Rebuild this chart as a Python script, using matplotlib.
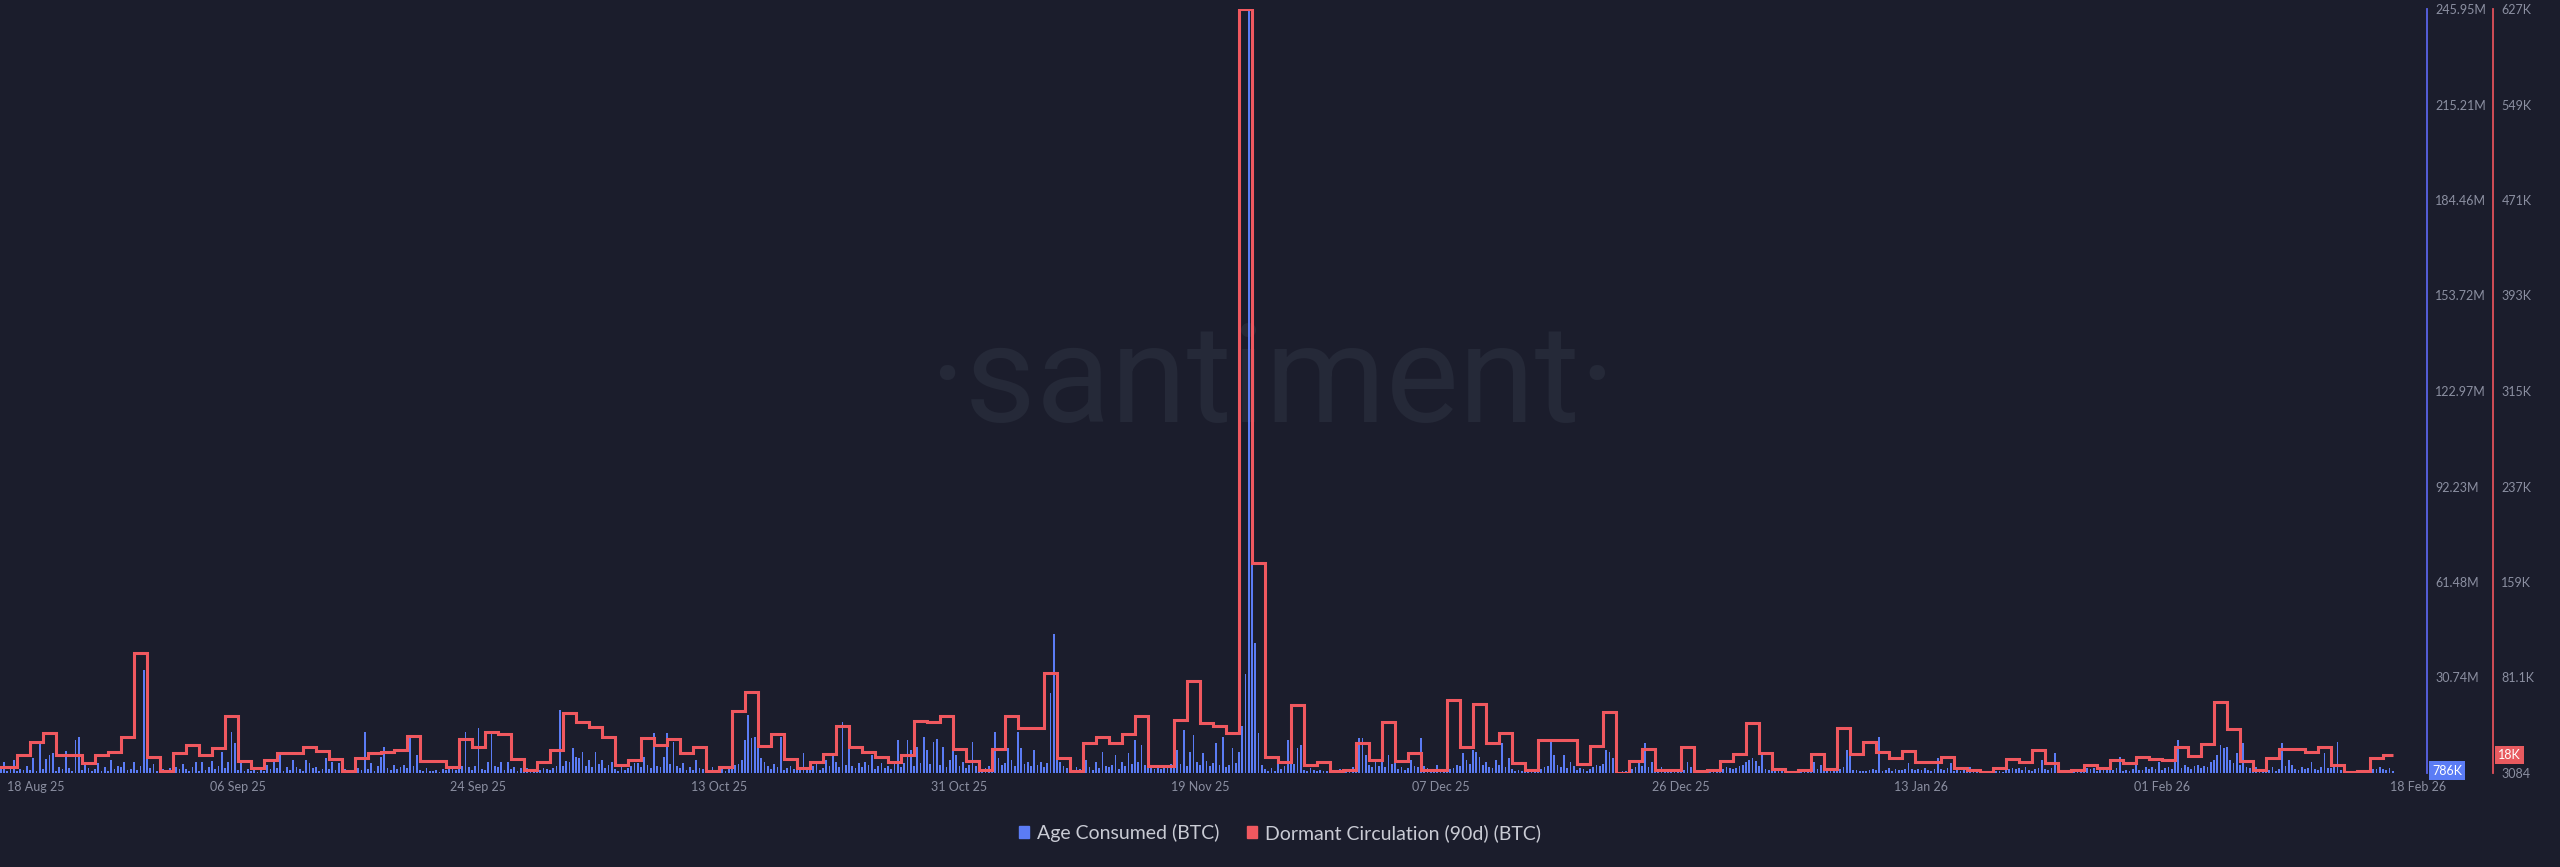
import pandas as pd
import matplotlib
matplotlib.use("Agg")
import matplotlib.pyplot as plt
from matplotlib.patches import Patch

plt.rcParams["font.family"] = ["Lato", "DejaVu Sans"]

BG = "#1b1d2c"
BLUE = "#5b7cf5"
RED = "#f0585f"
GREY = "#8b8fa1"

start = pd.Timestamp("2025-08-18")

# Dormant Circulation (90d), thousands of BTC, one value per day from 18 Aug 25
red_k = [
    8.0, 8.0, 17.8, 28.4, 35.8, 17.8, 17.6, 11.3, 17.8, 20.2, 32.5, 101.1, 16.2, 4.7, 19.4, 26.0,
    17.8, 23.5, 49.6, 12.9, 7.2, 13.7, 19.4, 19.6, 24.3, 21.1, 14.5, 4.7, 15.3, 19.4, 20.2, 21.9,
    33.3, 12.9, 12.9, 8.0, 30.9, 24.3, 36.6, 35.0, 14.5, 5.5, 12.1, 21.9, 52.1, 44.8, 40.7, 32.5,
    9.6, 13.7, 31.7, 26.0, 30.9, 19.4, 24.3, 4.7, 8.0, 53.7, 69.3, 25.1, 35.0, 14.5, 7.2, 12.1,
    18.6, 41.5, 24.3, 20.2, 16.2, 12.1, 17.8, 45.6, 44.8, 49.6, 22.7, 12.9, 5.5, 22.7, 49.6, 39.9,
    40.1, 84.8, 15.3, 4.7, 27.6, 32.5, 27.6, 35.0, 49.6, 8.8, 8.8, 46.4, 78.2, 43.9, 41.5, 35.8,
    627.0, 174.7, 16.2, 12.1, 58.6, 9.6, 12.1, 4.7, 5.5, 27.6, 13.7, 44.8, 12.9, 19.4, 5.5, 5.5,
    62.7, 24.3, 59.5, 27.6, 35.8, 11.3, 5.5, 30.0, 30.0, 30.0, 10.4, 25.1, 52.9, 3.084, 12.9, 22.7,
    5.5, 5.5, 24.3, 4.7, 5.5, 12.9, 18.6, 43.9, 19.4, 6.4, 3.9, 5.5, 18.6, 6.4, 39.9, 18.6,
    28.4, 20.2, 15.3, 21.1, 12.1, 12.1, 16.2, 7.2, 5.5, 3.9, 7.2, 14.5, 12.1, 21.9, 11.3, 4.7,
    5.5, 9.6, 7.2, 13.7, 11.3, 16.2, 14.5, 13.7, 24.3, 17.0, 26.8, 61.1, 39.0, 12.9, 5.5, 15.3,
    22.7, 22.7, 20.2, 24.3, 9.6, 3.9, 4.7, 15.3, 18.0,
]

# Age Consumed, millions of BTC, four values per day (6h) from 18 Aug 25
blue_m = [
    0.9, 1.6, 0.5, 2.1,  3.5, 0.8, 1.9, 4.2,  0.6, 1.4, 0.9, 2.3,  1.1, 4.8, 0.7, 9.7,
    1.3, 4.5, 5.8, 6.4,  0.8, 2.0, 1.2, 7.1,  1.5, 0.6, 10.6, 11.6,  0.9, 3.5, 1.7, 0.5,
    1.2, 3.2, 0.7, 1.8,  0.6, 4.2, 1.4, 2.2,  1.8, 3.5, 0.9, 1.3,  3.5, 1.1, 2.4, 33.2,
    6.0, 1.5, 2.9, 0.8,  0.7, 1.2, 0.5, 1.6,  0.9, 1.9, 1.3, 2.9,  1.4, 0.6, 1.8, 3.5,
    0.8, 3.5, 1.1, 2.0,  3.9, 1.3, 2.2, 6.8,  1.6, 3.5, 13.2, 9.7,  0.9, 4.2, 0.6, 1.4,
    0.5, 0.9, 0.4, 1.1,  0.7, 2.6, 1.2, 4.2,  1.5, 5.8, 0.8, 1.9,  1.1, 4.2, 2.0, 1.3,
    0.8, 4.2, 3.2, 1.7,  1.9, 0.7, 1.4, 4.8,  1.2, 3.5, 0.9, 3.2,  0.6, 1.3, 0.5, 0.9,
    0.8, 1.7, 1.1, 13.2,  1.4, 3.2, 0.7, 2.1,  5.2, 8.4, 1.6, 0.9,  2.6, 1.2, 1.9, 2.6,
    1.7, 11.6, 2.3, 5.8,  1.0, 0.6, 1.5, 0.8,  0.5, 0.9, 0.4, 1.2,  0.9, 1.4, 2.0, 1.1,
    1.6, 2.2, 13.2, 1.8,  1.1, 2.4, 14.5, 1.3,  0.9, 3.5, 12.9, 2.2,  1.8, 3.5, 1.0, 3.5,
    1.2, 2.0, 0.8, 1.6,  0.7, 1.5, 1.3, 0.9,  0.6, 1.1, 1.7, 1.4,  0.9, 1.6, 2.3, 20.3,
    2.1, 4.0, 3.6, 8.0,  5.2, 4.8, 6.8, 2.4,  4.2, 1.9, 6.8, 2.8,  4.2, 1.5, 2.6, 3.5,
    1.3, 0.8, 1.9, 1.1,  1.6, 2.2, 3.2, 3.2,  1.9, 5.2, 2.7, 1.5,  12.9, 2.3, 1.8, 5.2,
    12.9, 3.0, 10.0, 2.4,  1.7, 3.2, 1.1, 2.0,  0.9, 4.2, 1.6, 1.2,  1.3, 0.7, 1.9, 1.0,
    0.8, 1.4, 0.6, 1.7,  1.5, 2.6, 3.0, 4.1,  10.6, 18.7, 11.3, 11.6,  11.3, 4.8, 3.5, 2.2,
    1.4, 2.9, 1.8, 11.6,  1.1, 1.7, 2.3, 1.4,  1.8, 0.9, 6.4, 1.6,  1.2, 2.1, 3.2, 1.0,
    1.5, 4.2, 2.4, 6.4,  3.5, 2.0, 16.4, 2.7,  10.0, 2.3, 1.6, 3.2,  1.9, 3.5, 2.6, 5.8,
    1.4, 2.2, 3.2, 1.7,  2.1, 1.3, 2.8, 10.6,  1.8, 3.1, 10.6, 7.4,  2.4, 8.4, 3.3, 11.6,
    7.4, 2.9, 10.0, 10.9,  2.6, 8.4, 1.9, 4.2,  11.9, 5.8, 2.3, 3.5,  1.6, 2.7, 10.0, 2.1,
    1.2, 0.8, 1.5, 2.3,  1.9, 13.2, 4.8, 2.6,  3.1, 8.0, 4.2, 2.4,  13.2, 8.0, 2.9, 3.6,
    2.2, 7.4, 2.7, 3.5,  2.0, 3.2, 25.8, 44.8,  4.8, 3.5, 2.1, 1.6,  1.3, 0.9, 1.8, 1.2,
    1.5, 4.2, 2.0, 1.1,  3.5, 1.7, 6.8, 2.2,  1.9, 2.6, 5.8, 1.4,  3.5, 2.3, 6.4, 2.8,
    10.6, 3.4, 9.0, 2.5,  3.5, 1.8, 1.2, 2.1,  1.4, 2.2, 1.7, 2.9,  2.6, 7.4, 3.0, 13.8,
    2.4, 6.8, 12.2, 3.5,  2.7, 6.4, 3.9, 2.2,  3.1, 9.7, 2.5, 11.6,  2.0, 2.6, 8.0, 3.3,
    6.8, 15.0, 32.0, 245.95,  81.0, 42.0, 13.0, 2.6,  1.2, 0.8, 1.5, 0.6,  3.5, 1.4, 2.2, 10.6,
    5.8, 2.9, 8.0, 9.0,  1.1, 0.7, 1.6, 0.9,  0.6, 1.0, 0.5, 0.8,  0.4, 0.9, 0.7, 1.2,
    0.8, 1.3, 0.9, 1.9,  2.4, 11.3, 11.3, 5.8,  2.6, 1.9, 3.5, 2.2,  4.2, 1.8, 5.8, 2.9,
    3.5, 1.4, 2.0, 1.1,  1.6, 4.2, 2.3, 1.9,  11.3, 2.2, 1.5, 0.9,  0.7, 2.6, 1.0, 0.8,
    0.9, 1.4, 1.7, 2.5,  2.1, 6.4, 4.2, 3.0,  7.4, 6.8, 5.2, 2.7,  3.5, 2.0, 1.5, 4.2,
    2.6, 9.7, 1.8, 4.8,  1.4, 0.8, 1.1, 0.6,  0.5, 0.9, 0.7, 1.0,  0.8, 1.3, 1.9, 2.4,
    10.0, 5.8, 2.7, 1.9,  5.8, 1.6, 3.5, 2.2,  0.9, 1.5, 1.2, 0.7,  1.3, 1.8, 2.6, 2.3,
    3.0, 7.4, 6.8, 4.8,  0.6, 0.4, 0.8, 0.5,  0.7, 1.2, 1.8, 3.5,  2.3, 9.7, 1.9, 3.5,
    0.9, 1.4, 1.9, 0.6,  0.4, 0.7, 0.5, 0.8,  0.6, 1.1, 3.5, 1.9,  0.5, 0.3, 0.6, 0.4,
    0.7, 0.5, 0.9, 0.6,  0.8, 1.2, 1.9, 1.5,  1.3, 1.7, 2.2, 2.6,  3.5, 4.2, 4.8, 3.9,
    2.1, 5.8, 1.4, 0.9,  1.6, 0.7, 0.5, 0.8,  0.4, 0.6, 0.3, 0.5,  0.7, 0.5, 0.9, 1.1,
    1.2, 3.5, 1.4, 2.6,  0.6, 0.9, 0.7, 1.0,  0.8, 1.3, 2.0, 7.4,  5.8, 1.1, 0.9, 0.7,
    0.6, 0.8, 0.9, 1.2,  0.9, 11.6, 0.7, 1.0,  1.6, 0.8, 1.2, 0.9,  1.1, 1.4, 3.2, 1.2,
    0.9, 1.3, 1.0, 1.5,  1.1, 0.8, 1.4, 4.8,  1.2, 0.9, 1.6, 3.2,  0.7, 1.1, 0.8, 1.3,
    0.9, 1.9, 1.0, 0.7,  0.5, 0.8, 0.4, 0.6,  0.3, 0.5, 0.6, 0.4,  0.9, 1.4, 1.6, 1.3,
    1.6, 1.1, 1.9, 0.9,  0.8, 1.2, 1.5, 4.2,  1.3, 0.9, 1.7, 6.4,  0.6, 0.4, 0.7, 0.5,
    0.4, 0.6, 0.3, 0.5,  1.4, 1.7, 1.2, 1.6,  0.8, 1.1, 0.9, 1.3,  1.2, 0.9, 1.6, 5.2,
    0.7, 1.0, 0.6, 1.3,  2.6, 1.1, 0.9, 1.9,  1.4, 1.9, 1.2, 3.5,  0.9, 1.5, 1.9, 1.3,
    6.4, 10.6, 1.7, 2.6,  1.8, 1.3, 2.1, 2.6,  1.5, 2.2, 1.9, 3.5,  4.2, 5.8, 9.0, 8.0,
    8.4, 4.2, 3.1, 6.4,  2.7, 9.7, 2.0, 1.5,  0.9, 1.9, 0.7, 0.5,  0.6, 0.9, 1.9, 0.8,
    1.3, 9.7, 2.1, 4.2,  2.6, 1.4, 1.1, 1.9,  1.3, 1.6, 3.5, 1.2,  0.9, 1.8, 6.4, 1.5,
    1.7, 2.3, 10.0, 1.1,  0.6, 0.4, 0.7, 0.5,  0.3, 0.5, 0.4, 0.6,  0.8, 1.2, 1.4, 1.9,
    1.3, 1.0, 1.7, 0.786,
]

blue_max = 245.95
red_min, red_max = 3.084, 627.0
blue_tick_labels = ["30.74M", "61.48M", "92.23M", "122.97M", "153.72M", "184.46M", "215.21M", "245.95M"]
red_tick_labels = ["3084", "81.1K", "159K", "237K", "315K", "393K", "471K", "549K", "627K"]
x_ticks = ["2025-09-06 00:00", "2025-09-24 12:00", "2025-10-13 00:00", "2025-10-31 12:00",
           "2025-11-19 00:00", "2025-12-07 12:00", "2025-12-26 00:00", "2026-01-13 12:00",
           "2026-02-01 00:00"]

days = pd.date_range(start, periods=len(red_k), freq="D")
bars = pd.date_range(start, periods=len(blue_m), freq="6h")
end = bars[-1] + pd.Timedelta(hours=0.5)
edges = list(days) + [end]

fig = plt.figure(figsize=(25.6, 8.67), dpi=100, facecolor=BG)
ax = fig.add_axes([0, 94 / 867, 2427 / 2560, 764 / 867])
ax.set_facecolor("none")
ax2 = ax.twinx()
ax2.set_facecolor("none")

# watermark
fig.text(0.497, 0.557, "·santiment·", fontsize=99, color="#252938", ha="center",
         va="center", family=["Roboto", "DejaVu Sans"], fontweight="normal", zorder=-1)

ax.bar(bars, blue_m, width=pd.Timedelta(hours=3.6), color=BLUE, linewidth=0)
ax2.stairs(red_k, edges, color=RED, linewidth=2.2, baseline=None)

ax.set_xlim(start + pd.Timedelta(days=9 / 13), start + pd.Timedelta(days=2436 / 13))
ax.set_ylim(0, blue_max)
ax2.set_ylim(red_min, red_max)

# blue axis
ax.yaxis.tick_right()
ax.set_yticks([blue_max / 8 * (i + 1) for i in range(8)])
ax.set_yticklabels(blue_tick_labels)
ax.tick_params(axis="y", length=0, pad=6, labelsize=9, labelcolor=GREY)
for s in ["top", "left", "bottom"]:
    ax.spines[s].set_visible(False)
ax.spines["right"].set_color("#5a63e8")
ax.spines["right"].set_linewidth(1.3)

# red axis
ax2.set_yticks([red_min + (red_max - red_min) / 8 * i for i in range(9)])
ax2.set_yticklabels(red_tick_labels)
ax2.tick_params(axis="y", length=0, pad=6, labelsize=9, labelcolor=GREY)
for s in ["top", "left", "bottom"]:
    ax2.spines[s].set_visible(False)
ax2.spines["right"].set_position(("outward", 66 * 72 / 100))
ax2.spines["right"].set_color("#e0505a")
ax2.spines["right"].set_linewidth(1.3)

# x axis
tick_pos = pd.to_datetime(x_ticks)
ax.set_xticks(tick_pos)
ax.set_xticklabels([t.strftime("%d %b %y") for t in tick_pos])
ax.tick_params(axis="x", length=0, pad=6, labelsize=9, labelcolor=GREY)
ax.annotate(start.strftime("%d %b %y"), xy=(0, 0), xycoords="axes fraction",
            xytext=(7, -14), textcoords="offset pixels", ha="left", va="center",
            fontsize=9, color=GREY, annotation_clip=False)
ax.annotate(bars[-1].strftime("%d %b %y"), xy=(bars[-1], 0), xycoords=("data", "axes fraction"),
            xytext=(-3, -14), textcoords="offset pixels", ha="left", va="center",
            fontsize=9, color=GREY, annotation_clip=False)

# last value badges
ax.annotate(f"{blue_m[-1] * 1000:.0f}K", xy=(1, blue_m[-1]), xycoords=("axes fraction", "data"),
            xytext=(5, 0), textcoords="offset pixels", ha="left", va="center", fontsize=9,
            color="white", annotation_clip=False,
            bbox=dict(boxstyle="square,pad=0.25", fc=BLUE, ec="none"))
ax2.annotate(f"{red_k[-1]:.0f}K", xy=(1, red_k[-1]), xycoords=("axes fraction", "data"),
             xytext=(71, 0), textcoords="offset pixels", ha="left", va="center", fontsize=9,
             color="white", annotation_clip=False,
             bbox=dict(boxstyle="square,pad=0.25", fc="#e85a5f", ec="none"))

handles = [Patch(color=BLUE, label="Age Consumed (BTC)"),
           Patch(color=RED, label="Dormant Circulation (90d) (BTC)")]
fig.legend(handles=handles, loc="center", bbox_to_anchor=(0.5, 0.039), ncol=2,
           frameon=False, fontsize=14, handlelength=0.55, handleheight=0.55,
           handletextpad=0.4, columnspacing=1.4, labelcolor="#c9cbd4")

fig.savefig("out.png", dpi=100, facecolor=BG)
